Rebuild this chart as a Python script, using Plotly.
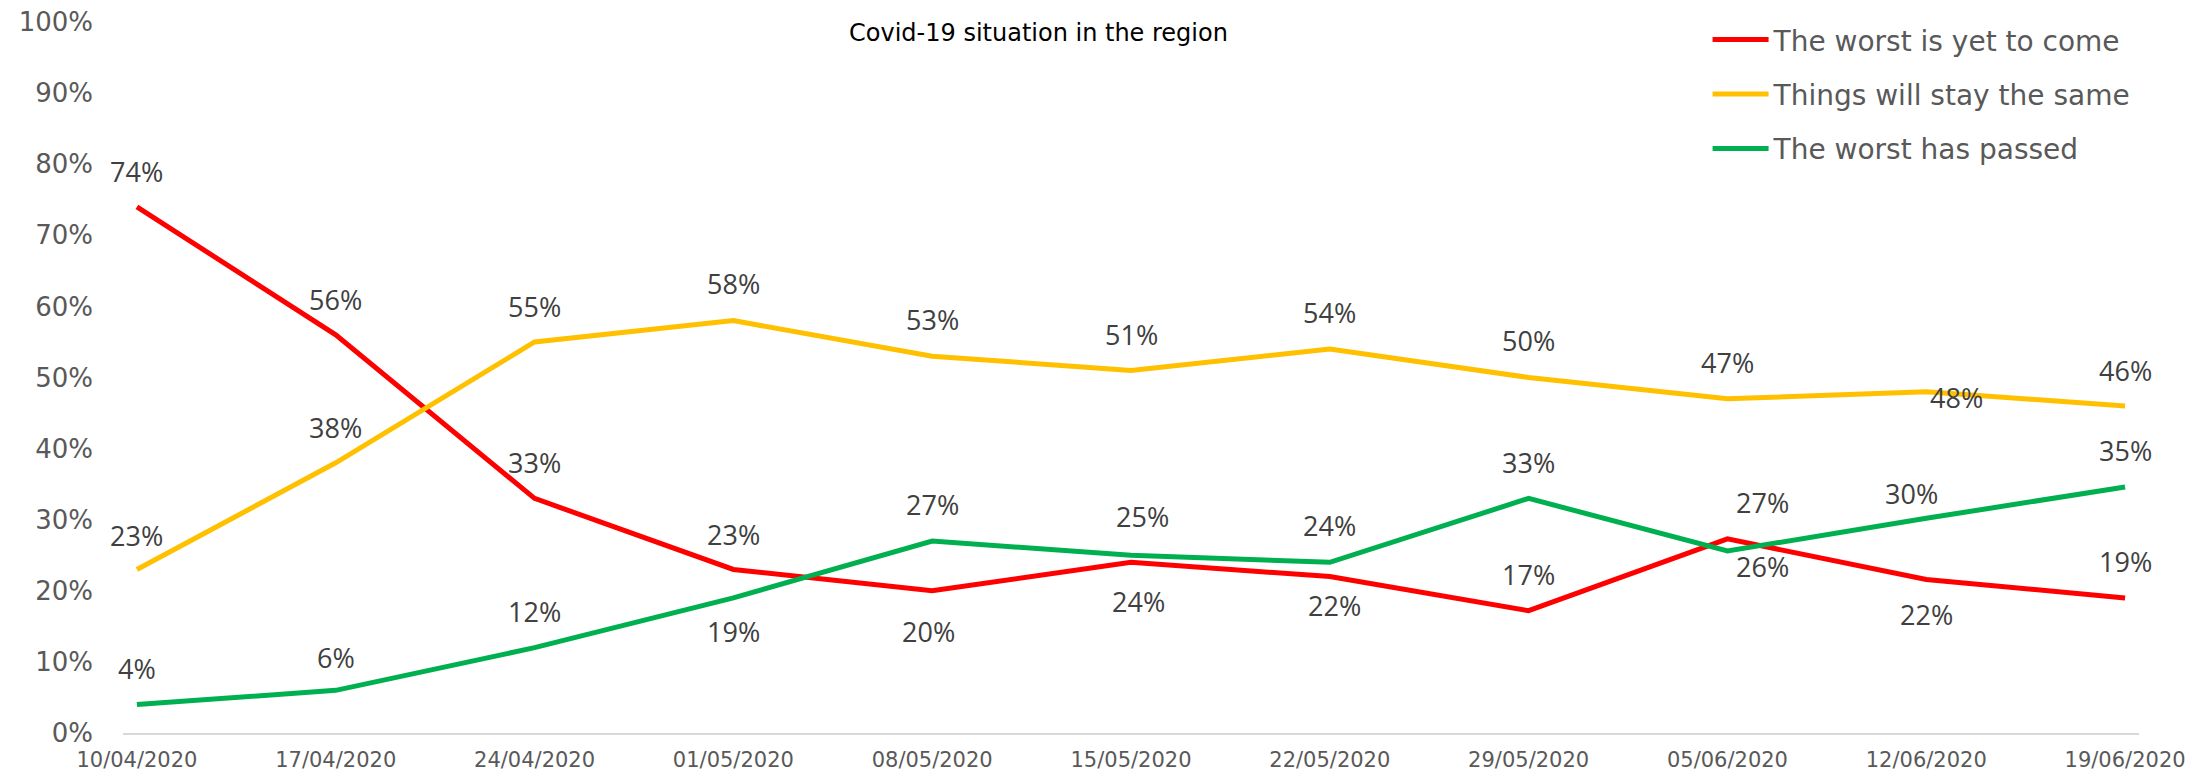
import plotly.graph_objects as go

dates = ["10/04/2020", "17/04/2020", "24/04/2020", "01/05/2020", "08/05/2020",
         "15/05/2020", "22/05/2020", "29/05/2020", "05/06/2020", "12/06/2020", "19/06/2020"]

worst_to_come = [74, 56, 33, 23, 20, 24, 22, 17.2, 27.3, 21.6, 19.0]
stay_same = [23, 38, 55, 58, 53, 51, 54, 50, 47, 48, 46]
worst_passed = [4, 6, 12, 19, 27, 25, 24, 33, 25.6, 30.2, 34.6]

series_names = ["The worst is yet to come", "Things will stay the same", "The worst has passed"]
series_colors = ["#FF0000", "#FFC000", "#00B050"]

y_ticks = [0, 10, 20, 30, 40, 50, 60, 70, 80, 90, 100]

# label offsets (dx, dy in px; dy positive = upward)
red_label_offsets = [(0, 35), (0, 35), (0, 36), (0, 35), (-4, -41), (7, -39),
                     (5, -29), (0, 36), (35, 36), (0, -35), (0, 36)]
yellow_label_offsets = [(0, 34), (0, 35), (0, 35), (0, 37), (0, 37), (0, 36),
                        (0, 37), (0, 37), (0, 36), (30, -6), (0, 35)]
green_label_offsets = [(0, 36), (0, 33), (0, 36), (0, -34), (0, 37), (11, 39),
                       (0, 37), (0, 36), (35, -16), (-15, 25), (0, 36)]

fig = go.Figure()
all_values = [worst_to_come, stay_same, worst_passed]
all_offsets = [red_label_offsets, yellow_label_offsets, green_label_offsets]

for i, (name, vals, col) in enumerate(zip(series_names, all_values, series_colors)):
    fig.add_trace(go.Scatter(
        x=dates, y=vals, mode="lines", name=name,
        line=dict(color=col, width=5),
        legendgroup=f"g{i}",
        hoverinfo="skip",
    ))

annotations = []
for vals, offs in zip(all_values, all_offsets):
    for d, v, (dx, dy) in zip(dates, vals, offs):
        annotations.append(dict(
            x=d, y=v, xref="x", yref="y", text=f"{round(v):d}%",
            showarrow=False, xshift=dx, yshift=dy,
            font=dict(family="Open Sans", size=27, color="#404040"),
        ))

annotations.append(dict(
    x=0.454, y=0.985, xref="paper", yref="paper",
    text="Covid-19 situation in the region", showarrow=False,
    font=dict(family="DejaVu Sans", size=24, color="#000000"),
    xanchor="center", yanchor="middle",
))

fig.update_layout(
    width=2212, height=775,
    margin=dict(l=123, r=73, t=22, b=42, autoexpand=False),
    paper_bgcolor="white", plot_bgcolor="white",
    showlegend=True,
    legend=dict(
        x=0.786, y=1.010, xanchor="left", yanchor="top",
        font=dict(family="DejaVu Sans", size=28, color="#595959"),
        tracegroupgap=15, bgcolor="rgba(0,0,0,0)",
        itemwidth=56,
    ),
    annotations=annotations,
    xaxis=dict(
        type="category", range=[-0.07, 10.07],
        showgrid=False, zeroline=False,
        showline=True, linecolor="#D9D9D9", linewidth=2,
        ticks="", tickfont=dict(family="DejaVu Sans", size=21, color="#595959"),
        ticklabelstandoff=7, automargin=False,
    ),
    yaxis=dict(
        range=[0, 100], tickvals=y_ticks, ticktext=[f"{t}%" for t in y_ticks],
        showgrid=False, zeroline=False, showline=False, ticks="",
        tickfont=dict(family="DejaVu Sans", size=26, color="#595959"),
        ticklabelstandoff=29, automargin=False,
    ),
)

fig.write_html(
    "out.html",
    config={"displayModeBar": False},
    post_script="document.body.style.margin='0px';document.body.style.overflow='hidden';",
)
